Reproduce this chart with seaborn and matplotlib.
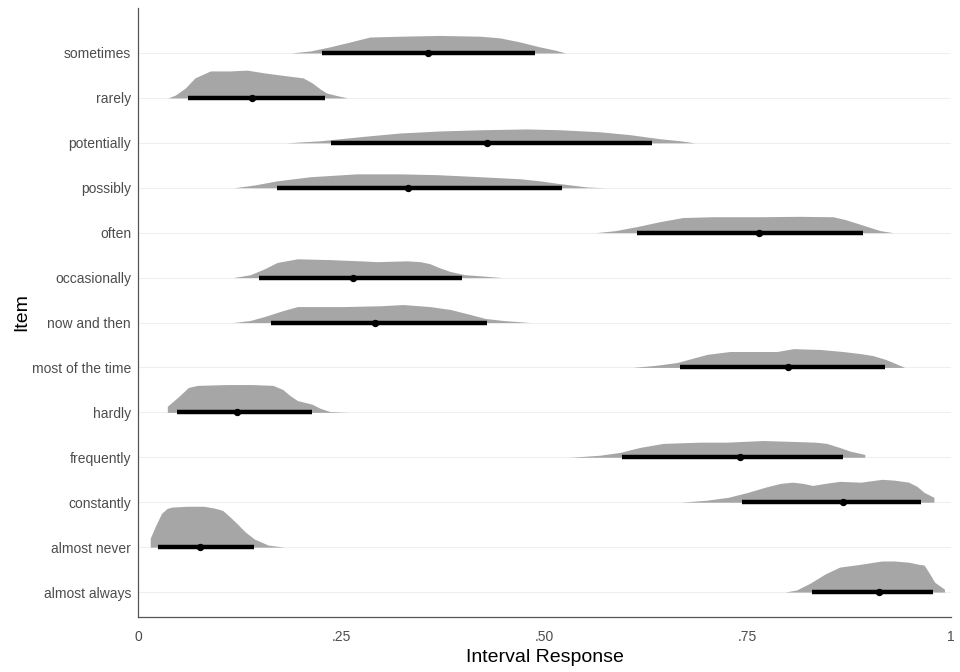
import numpy as np
import pandas as pd
import matplotlib
matplotlib.use("Agg")
import matplotlib.pyplot as plt
import seaborn as sns

# Items, bottom to top as in the reference
items = ['almost always', 'almost never', 'constantly', 'frequently', 'hardly',
         'most of the time', 'now and then', 'occasionally', 'often', 'possibly',
         'potentially', 'rarely', 'sometimes']

# Point (median) and interval
medians = [0.912, 0.076, 0.867, 0.740, 0.122, 0.800, 0.291, 0.264, 0.764, 0.332, 0.429, 0.140, 0.357]
lower = [0.829, 0.024, 0.743, 0.595, 0.048, 0.667, 0.164, 0.149, 0.614, 0.171, 0.237, 0.062, 0.226]
upper = [0.978, 0.143, 0.963, 0.867, 0.214, 0.919, 0.429, 0.398, 0.892, 0.522, 0.632, 0.230, 0.488]

# Density outlines (x, relative height)
almost_always_x = [0.796, 0.810, 0.827, 0.845, 0.863, 0.889, 0.915, 0.930, 0.948, 0.960, 0.967, 0.974, 0.980, 0.992]
almost_always_d = [0, .05, .22, .44, .61, .68, .76, .76, .73, .68, .66, .44, .24, .07]
almost_never_x = [0.015, 0.022, 0.029, 0.036, 0.042, 0.060, 0.081, 0.095, 0.104, 0.112, 0.121, 0.132, 0.143, 0.160, 0.180]
almost_never_d = [.22, .54, .83, .95, .98, 1.0, 1.0, .95, .90, .76, .59, .37, .20, .05, 0]
constantly_x = [0.668, 0.700, 0.726, 0.750, 0.772, 0.790, 0.805, 0.818, 0.830, 0.845, 0.863, 0.889, 0.915, 0.930, 0.948, 0.958, 0.967, 0.979]
constantly_d = [0, .05, .12, .24, .37, .46, .49, .46, .41, .46, .51, .49, .56, .54, .49, .39, .24, .12]
frequently_x = [0.531, 0.568, 0.593, 0.617, 0.646, 0.691, 0.724, 0.769, 0.802, 0.833, 0.847, 0.863, 0.876, 0.894]
frequently_d = [0, .05, .12, .24, .34, .37, .37, .41, .39, .37, .34, .24, .15, .07]
hardly_x = [0.036, 0.049, 0.062, 0.073, 0.109, 0.141, 0.166, 0.178, 0.187, 0.196, 0.214, 0.224, 0.236, 0.258]
hardly_d = [.15, .37, .61, .66, .68, .68, .66, .56, .41, .29, .20, .10, .02, 0]
most_of_the_time_x = [0.608, 0.636, 0.663, 0.685, 0.700, 0.728, 0.786, 0.806, 0.839, 0.867, 0.888, 0.904, 0.919, 0.929, 0.943]
most_of_the_time_d = [0, .05, .12, .24, .32, .39, .39, .46, .44, .39, .34, .29, .20, .12, 0]
now_and_then_x = [0.117, 0.138, 0.156, 0.178, 0.196, 0.252, 0.298, 0.326, 0.359, 0.384, 0.408, 0.427, 0.449, 0.482]
now_and_then_d = [0, .05, .15, .29, .39, .39, .41, .44, .39, .32, .20, .10, .05, 0]
occasionally_x = [0.117, 0.138, 0.156, 0.171, 0.196, 0.236, 0.273, 0.294, 0.331, 0.347, 0.359, 0.371, 0.384, 0.402, 0.417, 0.448]
occasionally_d = [0, .07, .22, .37, .46, .44, .41, .39, .41, .39, .34, .24, .15, .07, .05, 0]
often_x = [0.563, 0.587, 0.614, 0.642, 0.670, 0.706, 0.765, 0.814, 0.855, 0.870, 0.883, 0.897, 0.913, 0.929]
often_d = [0, .05, .15, .27, .37, .39, .39, .40, .39, .32, .24, .15, .05, 0]
possibly_x = [0.118, 0.144, 0.171, 0.212, 0.269, 0.322, 0.368, 0.421, 0.470, 0.494, 0.519, 0.552, 0.574]
possibly_d = [0, .07, .17, .27, .34, .34, .32, .27, .22, .17, .10, .02, 0]
potentially_x = [0.182, 0.224, 0.273, 0.322, 0.371, 0.421, 0.478, 0.519, 0.568, 0.605, 0.642, 0.667, 0.685]
potentially_d = [0, .05, .15, .24, .29, .32, .34, .32, .27, .20, .10, .05, 0]
rarely_x = [0.037, 0.046, 0.058, 0.070, 0.089, 0.113, 0.134, 0.156, 0.175, 0.203, 0.214, 0.224, 0.232, 0.246, 0.258]
rarely_d = [0, .07, .24, .49, .66, .66, .68, .61, .56, .49, .37, .22, .12, .05, 0]
sometimes_x = [0.188, 0.212, 0.236, 0.261, 0.285, 0.322, 0.371, 0.421, 0.445, 0.470, 0.494, 0.513, 0.526]
sometimes_d = [0, .05, .15, .27, .39, .41, .43, .41, .37, .27, .15, .07, 0]

profiles = [
    (almost_always_x, almost_always_d), (almost_never_x, almost_never_d),
    (constantly_x, constantly_d), (frequently_x, frequently_d),
    (hardly_x, hardly_d), (most_of_the_time_x, most_of_the_time_d),
    (now_and_then_x, now_and_then_d), (occasionally_x, occasionally_d),
    (often_x, often_d), (possibly_x, possibly_d),
    (potentially_x, potentially_d), (rarely_x, rarely_d),
    (sometimes_x, sometimes_d),
]

summary = pd.DataFrame({'Item': items, 'pos': range(len(items)),
                        'median': medians, 'lower': lower, 'upper': upper})

sns.set_theme(style="white")
plt.rcParams['font.family'] = ['Liberation Sans', 'DejaVu Sans']

fig = plt.figure(figsize=(9.6, 6.72), dpi=100)
ax = fig.add_axes([0.1438, 0.0818, 0.8468, 0.9062])

# faint horizontal grid at each item
for i in range(len(items)):
    ax.axhline(i, color='#EFEFEF', lw=0.8, zorder=0)

# half-eye densities
scale = 0.91
for i, (xs, ds) in enumerate(profiles):
    ax.fill_between(xs, i, i + np.array(ds) * scale, color='#A6A6A6', lw=0, zorder=1)

# intervals and medians
ax.hlines(summary['pos'], summary['lower'], summary['upper'], color='black', lw=3.2, zorder=2)
sns.scatterplot(data=summary, x='median', y='pos', color='black', s=28,
                edgecolor='black', linewidth=0, zorder=3, ax=ax)

ax.set_xlim(0, 1)
ax.set_ylim(-0.556, 13.0)
ax.set_xticks([0, 0.25, 0.5, 0.75, 1])
ax.set_xticklabels(['0', '.25', '.50', '.75', '1'])
ax.set_yticks(range(len(items)))
ax.set_yticklabels(items)
ax.tick_params(axis='both', length=0, labelsize=10, labelcolor='#4D4D4D')
ax.tick_params(axis='x', pad=9)
ax.tick_params(axis='y', pad=5)

for side in ['top', 'right']:
    ax.spines[side].set_visible(False)
for side in ['left', 'bottom']:
    ax.spines[side].set_color('#555555')
    ax.spines[side].set_linewidth(0.9)

ax.set_xlabel('Interval Response', fontsize=14, color='black', labelpad=4)
ax.set_ylabel('Item', fontsize=14, color='black', labelpad=1)

plt.savefig('out.png', dpi=100)
